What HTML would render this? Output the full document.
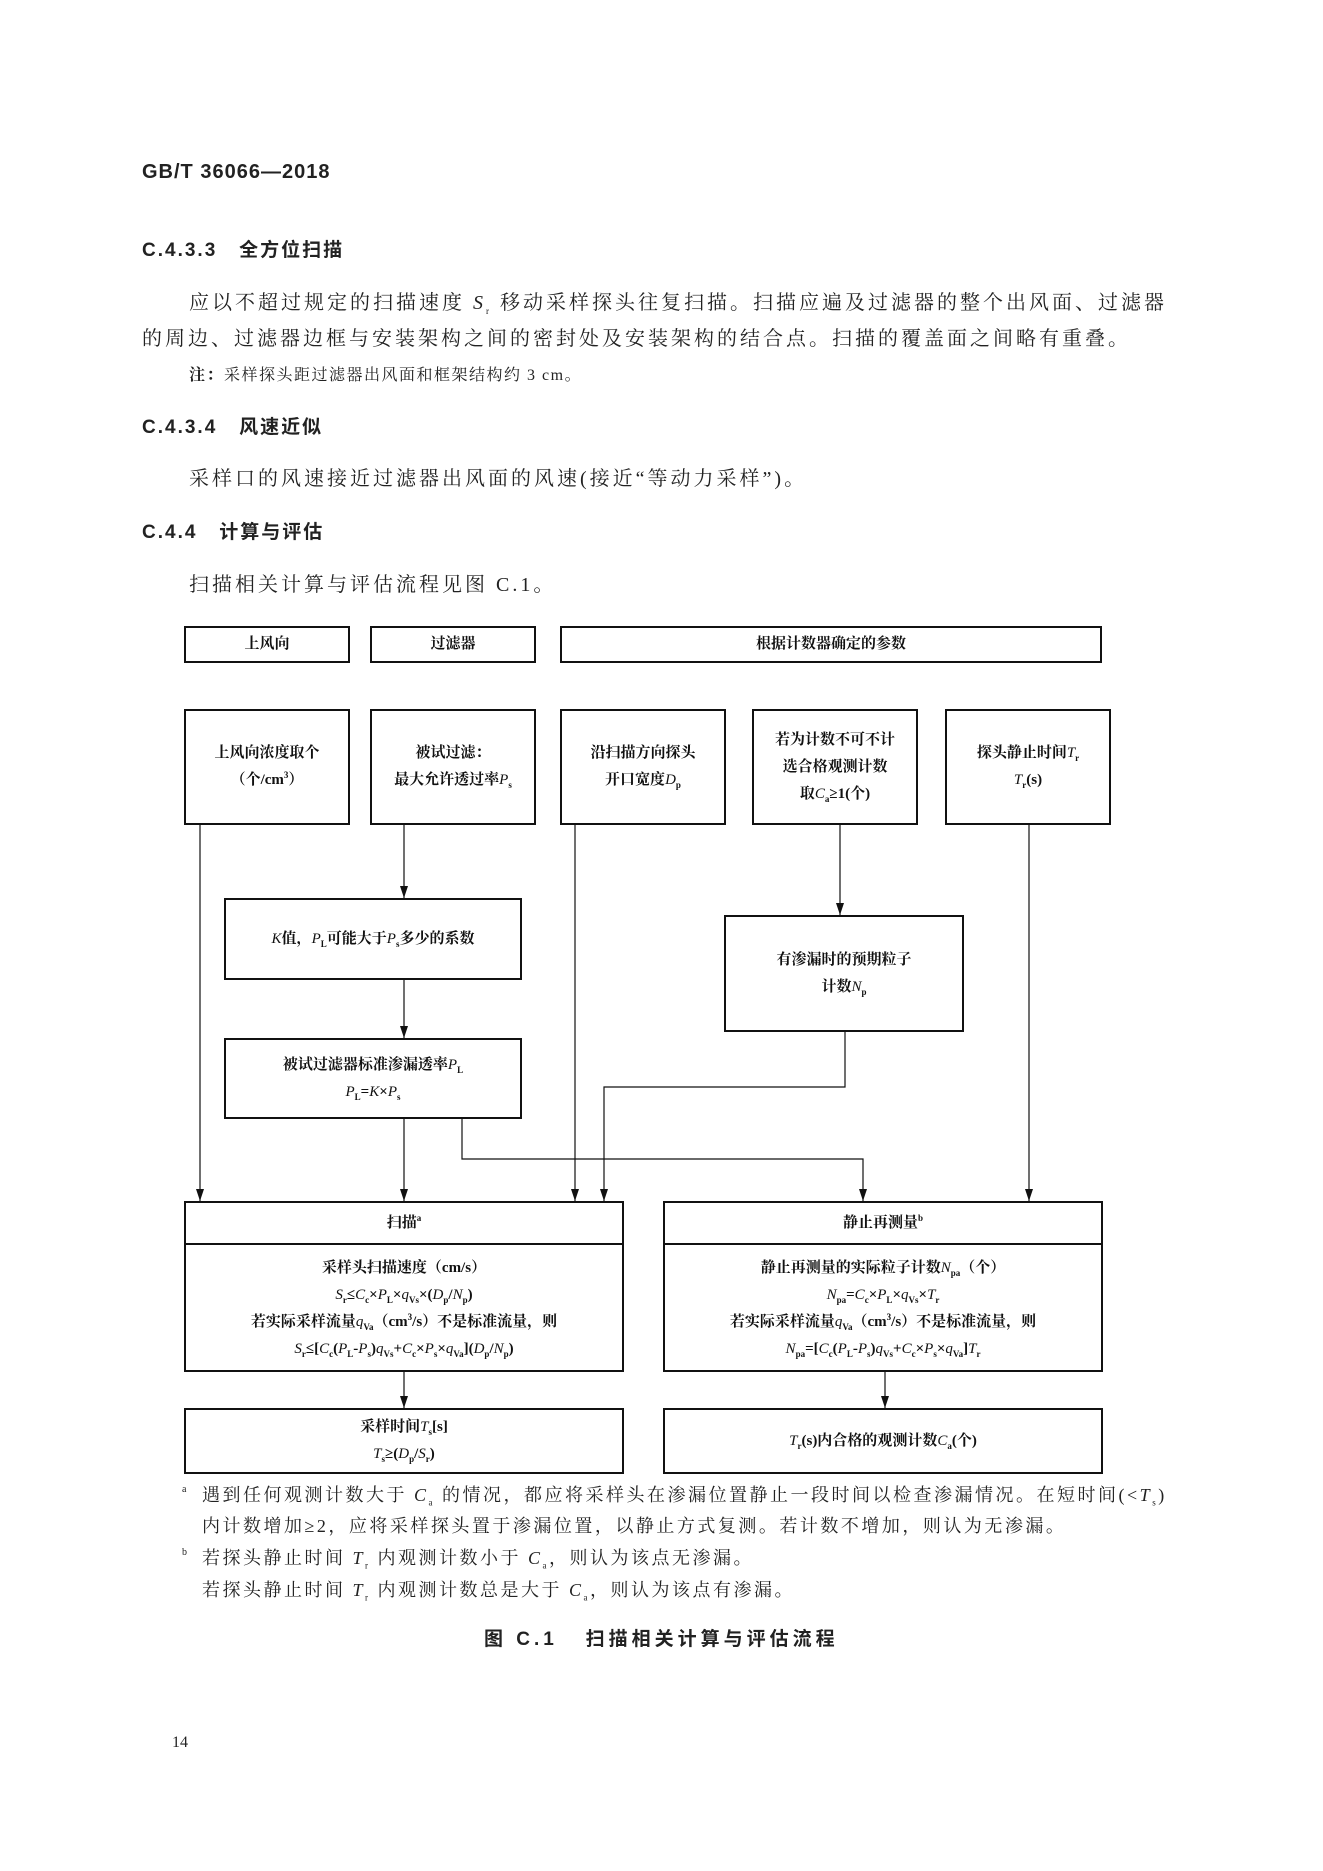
<!DOCTYPE html>
<html><head><meta charset="utf-8"><style>
body{margin:0;background:#fff;}
#p{position:relative;width:1323px;height:1871px;font-family:"Liberation Serif","Noto Serif CJK SC",serif;color:#222;overflow:hidden}
.t{position:absolute;white-space:nowrap;line-height:1}
.h{font-family:"Liberation Sans","Noto Sans CJK SC",sans-serif;font-weight:bold;font-size:19px;letter-spacing:2px}
.b{font-size:20px;letter-spacing:3px}
.f{font-size:18px;letter-spacing:2.5px}
#d{position:absolute;left:-2px;top:-4px;width:1323px;height:1871px}
.box{position:absolute;border:2px solid #111;box-sizing:border-box;display:flex;flex-direction:column;align-items:center;justify-content:center;text-align:center;font-size:15px;line-height:27px;font-family:"Liberation Serif","Noto Serif CJK SC",serif;font-weight:bold;color:#111}
.box > div{white-space:nowrap}
i{font-style:italic;font-weight:normal}
sub,sup{font-size:9px;line-height:0}
</style></head><body><div id="p">
<div class="t h" style="left:142px;top:162px;font-size:20px;letter-spacing:1px">GB/T 36066—2018</div>
<div class="t h" style="left:142px;top:241px">C.4.3.3&nbsp;&nbsp;&nbsp;全方位扫描</div>
<div class="t b" style="left:189px;top:293px">应以不超过规定的扫描速度 <i>S</i><sub>r</sub> 移动采样探头往复扫描。扫描应遍及过滤器的整个出风面、过滤器</div>
<div class="t b" style="left:142px;top:329px">的周边、过滤器边框与安装架构之间的密封处及安装架构的结合点。扫描的覆盖面之间略有重叠。</div>
<div class="t" style="left:189px;top:368px;font-size:16px;letter-spacing:1.5px"><b>注：</b>采样探头距过滤器出风面和框架结构约 3 cm。</div>
<div class="t h" style="left:142px;top:418px">C.4.3.4&nbsp;&nbsp;&nbsp;风速近似</div>
<div class="t b" style="left:189px;top:469px">采样口的风速接近过滤器出风面的风速(接近“等动力采样”)。</div>
<div class="t h" style="left:142px;top:523px">C.4.4&nbsp;&nbsp;&nbsp;计算与评估</div>
<div class="t b" style="left:189px;top:575px">扫描相关计算与评估流程见图 C.1。</div>

<div id="d">
<svg style="position:absolute;left:0;top:0" width="1323" height="1871">
<defs><marker id="a" markerWidth="12" markerHeight="8" refX="12" refY="4" orient="auto" markerUnits="userSpaceOnUse"><path d="M0,0 L12,4 L0,8 Z" fill="#111"/></marker></defs>
<g stroke="#111" stroke-width="1.2" fill="none">
<path d="M202,829 V1205" marker-end="url(#a)"/>
<path d="M406,829 V902" marker-end="url(#a)"/>
<path d="M406,984 V1042" marker-end="url(#a)"/>
<path d="M406,1123 V1205" marker-end="url(#a)"/>
<path d="M577,829 V1205" marker-end="url(#a)"/>
<path d="M842,829 V919" marker-end="url(#a)"/>
<path d="M847,1036 V1091 H606 V1205" marker-end="url(#a)"/>
<path d="M464,1123 V1163 H865 V1205" marker-end="url(#a)"/>
<path d="M1031,829 V1205" marker-end="url(#a)"/>
<path d="M406,1376 V1412" marker-end="url(#a)"/>
<path d="M887,1376 V1412" marker-end="url(#a)"/>
</g></svg>

<div class="box" style="left:186px;top:630px;width:166px;height:37px"><div>上风向</div></div>
<div class="box" style="left:372px;top:630px;width:166px;height:37px"><div>过滤器</div></div>
<div class="box" style="left:562px;top:630px;width:542px;height:37px"><div>根据计数器确定的参数</div></div>

<div class="box" style="left:186px;top:713px;width:166px;height:116px"><div>上风向浓度取个<br>（个/cm<sup>3</sup>）</div></div>
<div class="box" style="left:372px;top:713px;width:166px;height:116px"><div>被试过滤：<br>最大允许透过率<i>P</i><sub>s</sub></div></div>
<div class="box" style="left:562px;top:713px;width:166px;height:116px"><div>沿扫描方向探头<br>开口宽度<i>D</i><sub>p</sub></div></div>
<div class="box" style="left:754px;top:713px;width:166px;height:116px"><div>若为计数不可不计<br>选合格观测计数<br>取<i>C</i><sub>a</sub>≥1(个)</div></div>
<div class="box" style="left:947px;top:713px;width:166px;height:116px"><div>探头静止时间<i>T</i><sub>r</sub><br><i>T</i><sub>r</sub>(s)</div></div>

<div class="box" style="left:226px;top:902px;width:298px;height:82px"><div><i>K</i>值，<i>P</i><sub>L</sub>可能大于<i>P</i><sub>s</sub>多少的系数</div></div>
<div class="box" style="left:226px;top:1042px;width:298px;height:81px"><div>被试过滤器标准渗漏透率<i>P</i><sub>L</sub><br><i>P</i><sub>L</sub>=<i>K</i>×<i>P</i><sub>s</sub></div></div>
<div class="box" style="left:726px;top:919px;width:240px;height:117px"><div>有渗漏时的预期粒子<br>计数<i>N</i><sub>p</sub></div></div>

<div class="box" style="left:186px;top:1205px;width:440px;height:171px;justify-content:flex-start">
<div style="height:40px;width:100%;border-bottom:2px solid #111;display:flex;align-items:center;justify-content:center"><span>扫描<sup>a</sup></span></div>
<div style="margin-top:10px">采样头扫描速度（cm/s）<br><i>S</i><sub>r</sub>≤<i>C</i><sub>c</sub>×<i>P</i><sub>L</sub>×<i>q</i><sub>Vs</sub>×(<i>D</i><sub>p</sub>/<i>N</i><sub>p</sub>)<br>若实际采样流量<i>q</i><sub>Va</sub>（cm<sup>3</sup>/s）不是标准流量，则<br><i>S</i><sub>r</sub>≤[<i>C</i><sub>c</sub>(<i>P</i><sub>L</sub>-<i>P</i><sub>s</sub>)<i>q</i><sub>Vs</sub>+<i>C</i><sub>c</sub>×<i>P</i><sub>s</sub>×<i>q</i><sub>Va</sub>](<i>D</i><sub>p</sub>/<i>N</i><sub>p</sub>)</div></div>
<div class="box" style="left:665px;top:1205px;width:440px;height:171px;justify-content:flex-start">
<div style="height:40px;width:100%;border-bottom:2px solid #111;display:flex;align-items:center;justify-content:center"><span>静止再测量<sup>b</sup></span></div>
<div style="margin-top:10px">静止再测量的实际粒子计数<i>N</i><sub>pa</sub>（个）<br><i>N</i><sub>pa</sub>=<i>C</i><sub>c</sub>×<i>P</i><sub>L</sub>×<i>q</i><sub>Vs</sub>×<i>T</i><sub>r</sub><br>若实际采样流量<i>q</i><sub>Va</sub>（cm<sup>3</sup>/s）不是标准流量，则<br><i>N</i><sub>pa</sub>=[<i>C</i><sub>c</sub>(<i>P</i><sub>L</sub>-<i>P</i><sub>s</sub>)<i>q</i><sub>Vs</sub>+<i>C</i><sub>c</sub>×<i>P</i><sub>s</sub>×<i>q</i><sub>Va</sub>]<i>T</i><sub>r</sub></div></div>

<div class="box" style="left:186px;top:1412px;width:440px;height:66px"><div>采样时间<i>T</i><sub>s</sub>[s]<br><i>T</i><sub>s</sub>≥(<i>D</i><sub>p</sub>/<i>S</i><sub>r</sub>)</div></div>
<div class="box" style="left:665px;top:1412px;width:440px;height:66px"><div><i>T</i><sub>r</sub>(s)内合格的观测计数<i>C</i><sub>a</sub>(个)</div></div>
</div>

<div class="t" style="left:182px;top:1485px;font-size:10px">a</div>
<div class="t f" style="left:202px;top:1486px">遇到任何观测计数大于 <i>C</i><sub>a</sub> 的情况，都应将采样头在渗漏位置静止一段时间以检查渗漏情况。在短时间(&lt;<i>T</i><sub>s</sub>)</div>
<div class="t f" style="left:202px;top:1517px">内计数增加≥2，应将采样探头置于渗漏位置，以静止方式复测。若计数不增加，则认为无渗漏。</div>
<div class="t" style="left:182px;top:1548px;font-size:10px">b</div>
<div class="t f" style="left:202px;top:1549px">若探头静止时间 <i>T</i><sub>r</sub> 内观测计数小于 <i>C</i><sub>a</sub>，则认为该点无渗漏。</div>
<div class="t f" style="left:202px;top:1581px">若探头静止时间 <i>T</i><sub>r</sub> 内观测计数总是大于 <i>C</i><sub>a</sub>，则认为该点有渗漏。</div>
<div class="t h" style="left:484px;top:1630px;letter-spacing:4px">图 C.1&nbsp;&nbsp;&nbsp;扫描相关计算与评估流程</div>
<div class="t" style="left:172px;top:1735px;font-size:16px">14</div>
</div></body></html>
